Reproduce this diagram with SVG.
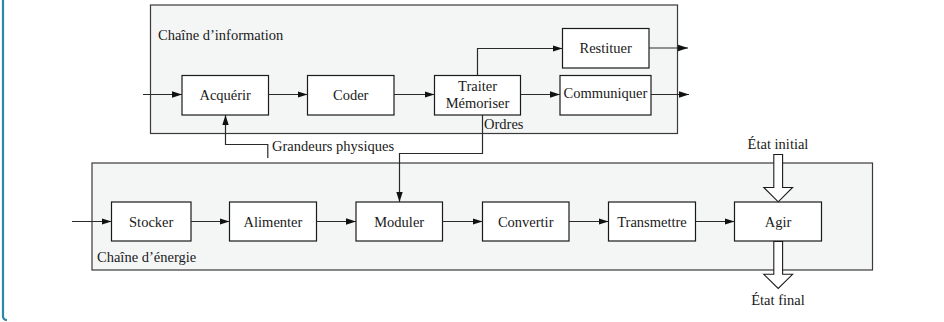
<svg xmlns="http://www.w3.org/2000/svg" width="944" height="322" viewBox="0 0 944 322">
  <style>
    text { font-family: "Liberation Serif", "Times New Roman", serif; font-size: 14.5px; fill: #1a1a1a; }
    .mid { text-anchor: middle; }
    .panel { fill: #f4f6f6; stroke: #3a3a3a; stroke-width: 1.2; }
    .box { fill: #ffffff; stroke: #1a1a1a; stroke-width: 1.2; }
    .wire { fill: none; stroke: #2a2a2a; stroke-width: 1.2; }
    .big { fill: #ffffff; stroke: #1a1a1a; stroke-width: 1.1; stroke-linejoin: miter; }
  </style>
  <defs>
    <marker id="arr" viewBox="0 0 10 8" refX="10" refY="4" markerWidth="10" markerHeight="8" markerUnits="userSpaceOnUse" orient="auto">
      <path d="M0,0.8 L10,4 L0,7.2 Z" fill="#111"/>
    </marker>
  </defs>

  <!-- page frame edge -->
  <path d="M3,-2 V316 Q3,320 7,320" fill="none" stroke="#2b87a6" stroke-width="2.2"/>

  <!-- chain panels -->
  <g id="chaine-information">
    <rect class="panel" x="150.5" y="5" width="527" height="128.5"/>
    <text x="158" y="40">Chaîne d’information</text>
  </g>
  <g id="chaine-energie">
    <rect class="panel" x="92" y="163" width="780.5" height="107"/>
    <text x="97" y="262">Chaîne d’énergie</text>
  </g>

  <!-- information chain blocks -->
  <g id="acquerir">
    <rect class="box" x="182" y="75.5" width="86.5" height="39.5"/>
    <text class="mid" x="225.2" y="100">Acquérir</text>
  </g>
  <g id="coder">
    <rect class="box" x="307.5" y="75.5" width="86.5" height="39.5"/>
    <text class="mid" x="350.7" y="100">Coder</text>
  </g>
  <g id="traiter">
    <rect class="box" x="434.5" y="75.5" width="86" height="39.5"/>
    <text class="mid" x="477.5" y="91">Traiter</text>
    <text class="mid" x="477.5" y="108">Mémoriser</text>
  </g>
  <g id="restituer">
    <rect class="box" x="562.5" y="28.5" width="86.5" height="39.5"/>
    <text class="mid" x="605.7" y="53">Restituer</text>
  </g>
  <g id="communiquer">
    <rect class="box" x="560" y="75.5" width="91" height="39.5"/>
    <text class="mid" x="605.5" y="98">Communiquer</text>
  </g>

  <!-- energy chain blocks -->
  <g id="stocker">
    <rect class="box" x="111.5" y="202" width="79.5" height="39"/>
    <text class="mid" x="151.2" y="226.5">Stocker</text>
  </g>
  <g id="alimenter">
    <rect class="box" x="229.5" y="202" width="87" height="39"/>
    <text class="mid" x="273" y="226.5">Alimenter</text>
  </g>
  <g id="moduler">
    <rect class="box" x="356" y="202" width="86.5" height="39"/>
    <text class="mid" x="399.2" y="226.5">Moduler</text>
  </g>
  <g id="convertir">
    <rect class="box" x="482.5" y="202" width="86.5" height="39"/>
    <text class="mid" x="525.7" y="226.5">Convertir</text>
  </g>
  <g id="transmettre">
    <rect class="box" x="608.5" y="202" width="87" height="39"/>
    <text class="mid" x="652" y="226.5">Transmettre</text>
  </g>
  <g id="agir">
    <rect class="box" x="734.5" y="202" width="87" height="39"/>
    <text class="mid" x="778" y="226.5">Agir</text>
  </g>

  <!-- connectors -->
  <g id="connectors">
    <path class="wire" d="M143,94.5 H182" marker-end="url(#arr)"/>
    <path class="wire" d="M268.5,94.5 H307.5" marker-end="url(#arr)"/>
    <path class="wire" d="M394,94.5 H434.5" marker-end="url(#arr)"/>
    <path class="wire" d="M520.5,94.5 H560" marker-end="url(#arr)"/>
    <path class="wire" d="M477.5,75.5 V48.5 H562.5" marker-end="url(#arr)"/>
    <path class="wire" d="M649,48 H688" marker-end="url(#arr)"/>
    <path class="wire" d="M651,94.5 H689" marker-end="url(#arr)"/>

    <path class="wire" d="M482.5,115 V153.5 H399.5 V202" marker-end="url(#arr)"/>
    <text x="484" y="129">Ordres</text>

    <path class="wire" d="M267.8,158 V144.5 H225.5 V115" marker-end="url(#arr)"/>
    <text x="272" y="151">Grandeurs physiques</text>

    <path class="wire" d="M72,221.5 H111.5" marker-end="url(#arr)"/>
    <path class="wire" d="M191,221.5 H229.5" marker-end="url(#arr)"/>
    <path class="wire" d="M316.5,221.5 H356" marker-end="url(#arr)"/>
    <path class="wire" d="M442.5,221.5 H482.5" marker-end="url(#arr)"/>
    <path class="wire" d="M569,221.5 H608.5" marker-end="url(#arr)"/>
    <path class="wire" d="M695.5,221.5 H734.5" marker-end="url(#arr)"/>

    <!-- state arrows -->
    <path class="big" d="M773.8,154.5 H782.6 V187.5 H792.6 L778.2,201.8 L763.8,187.5 H773.8 Z"/>
    <text class="mid" x="778" y="149">État initial</text>
    <path class="big" d="M773.8,241.5 H782.6 V274.3 H792.6 L778.2,288.5 L763.8,274.3 H773.8 Z"/>
    <text class="mid" x="778" y="304.5">État final</text>
  </g>
</svg>
